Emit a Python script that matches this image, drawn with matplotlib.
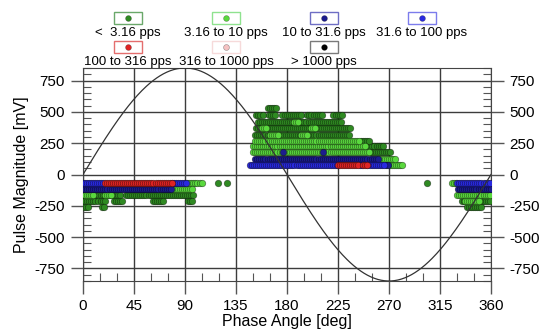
import numpy as np
import matplotlib
matplotlib.use('Agg')
import matplotlib.pyplot as plt
from matplotlib.ticker import MultipleLocator
from matplotlib.patches import Rectangle
from matplotlib.lines import Line2D

plt.rcParams['font.family'] = ['Liberation Sans', 'DejaVu Sans']
plt.rcParams['axes.unicode_minus'] = False

# classes of pulse rate (legend)
legend_labels = ['<  3.16 pps', '3.16 to 10 pps', '10 to 31.6 pps', '31.6 to 100 pps',
                 '100 to 316 pps', '316 to 1000 pps', '> 1000 pps']
legend_colors = ['#2f8a22', '#5ad83e', '#1c1c8e', '#2a2ae0', '#e02424', '#f5c2c2', '#000000']
legend_edges = ['#6aa86a', '#8fe28f', '#6e6ec4', '#7c7cec', '#e46e6e', '#f6dada', '#7a7a7a']

PHASE_STEP = 1.8  # phase bin width [deg]

# runs of occupied phase bins: (magnitude mV, first phase, last phase)
dark_green_runs = [
    (176, 253, 271), (224, 250, 266), (271, 245, 253),
    (319, 152, 236), (370, 153, 237), (422, 154, 228),
    (478, 153, 159), (478, 164, 171), (478, 176, 193), (478, 198, 211), (478, 221, 229),
    (530, 163, 171),
    (271, 180, 186), (271, 215, 222), (224, 200, 205),
    (-66, 119, 119), (-66, 127, 127), (-66, 303.5, 303.5),
    (-160, 0, 34), (-160, 38, 99),
    (-211, 2, 13), (-211, 16, 20), (-211, 27, 35), (-211, 62, 71), (-211, 93, 97),
    (-262, 1, 5), (-262, 17, 20),
    (-211, 334, 360), (-262, 339, 352),
]
light_green_runs = [
    (78, 271, 283), (127, 261, 276), (176, 150, 253), (224, 150, 250), (271, 152, 245),
    (319, 165, 173), (319, 192, 199), (370, 158, 163), (370, 201, 206), (422, 186, 190),
    (-66, 92, 106), (-113, 78.5, 97),
    (-160, 2, 10), (-160, 19, 26),
    (-66, 325.5, 330), (-160, 330, 359), (-211, 337, 350),
]
dark_blue_runs = [
    (127, 152, 260), (176, 176.5, 176.5), (176, 212, 212), (78, 267, 270),
    (-113, 0, 78.5), (-113, 331, 360),
]
blue_runs = [
    (78, 147, 225), (78, 244, 247), (78, 251, 267),
    (-66, 0, 19), (-66, 78.5, 92), (-66, 330, 360),
]
red_runs = [
    (78, 225, 244), (78, 247, 251),
    (-66, 19, 78.5),
]


def expand(runs):
    ph, mag = [], []
    for m, a, b in runs:
        p = np.arange(a, b + 0.01, PHASE_STEP)
        ph.extend(p)
        mag.extend([m] * len(p))
    return ph, mag


fig = plt.figure(figsize=(5.45, 3.35), dpi=100)
ax = fig.add_axes([83 / 545, 1 - 281 / 335, 408 / 545, 213 / 335])

series = [(dark_green_runs, legend_colors[0]), (light_green_runs, legend_colors[1]),
          (dark_blue_runs, legend_colors[2]), (blue_runs, legend_colors[3]),
          (red_runs, legend_colors[4])]
for runs, c in series:
    ph, mag = expand(runs)
    ax.scatter(ph, mag, s=22, c=c, edgecolors=(0, 0, 0, 0.5), linewidths=0.5, zorder=3)

# reference sine
phase = np.linspace(0, 360, 361)
ax.plot(phase, 850 * np.sin(np.radians(phase)), color='#333333', lw=0.9, zorder=4)

ax.set_xlim(0, 360)
ax.set_ylim(-850, 850)
ax.set_xticks(np.arange(0, 361, 45))
ax.set_yticks(np.arange(-750, 751, 250))
ax.xaxis.set_minor_locator(MultipleLocator(15))
ax.yaxis.set_minor_locator(MultipleLocator(50))
ax.grid(True, which='major', color='#3c3c3c', lw=1.0, zorder=1)
ax.set_axisbelow(True)
ax.tick_params(which='major', direction='out', length=9, width=1.0, color='#555555',
               labelsize=11, pad=4)
ax.tick_params(which='minor', direction='in', length=6, width=0.8, color='#555555')
ax.tick_params(axis='y', which='both', left=True, right=True, labelright=True)
ax.tick_params(axis='x', which='both', top=False)
for sp in ax.spines.values():
    sp.set_color('#444444')
ax.set_xlabel('Phase Angle [deg]', fontsize=11.5, labelpad=1)
ax.set_ylabel('Pulse Magnitude [mV]', fontsize=11.5, labelpad=4)

# legend drawn above the axes
W, H = 545, 335
centers = [128, 226, 324, 422]
for i, (lab, c, e) in enumerate(zip(legend_labels, legend_colors, legend_edges)):
    row, col = divmod(i, 4)
    cx = centers[col]
    box_top = 12 + row * 29
    fig.add_artist(Rectangle(((cx - 14) / W, 1 - (box_top + 12) / H), 28 / W, 12 / H,
                             transform=fig.transFigure, facecolor='white', edgecolor=e, lw=1.0))
    fig.add_artist(Line2D([cx / W], [1 - (box_top + 6) / H], marker='o', ms=4.2,
                          color=c, markeredgecolor=(0, 0, 0, 0.4), markeredgewidth=0.4,
                          transform=fig.transFigure))
    fig.text(cx / W, 1 - (box_top + 21) / H, lab, ha='center', va='center', fontsize=9.5)

fig.savefig('out.png', dpi=100)
